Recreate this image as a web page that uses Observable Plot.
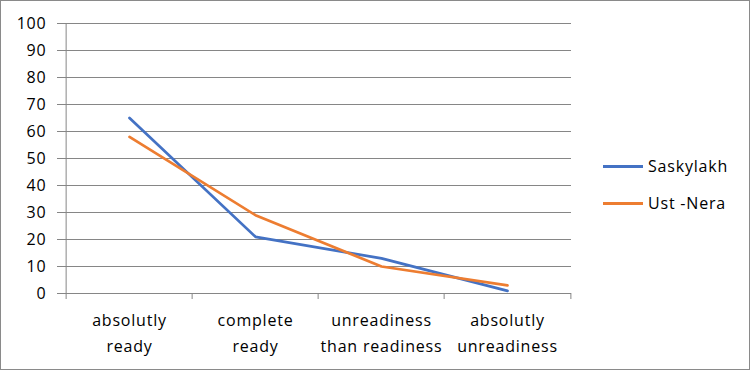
<!DOCTYPE html>
<html>
<head>
<meta charset="utf-8">
<script src="https://cdn.jsdelivr.net/npm/d3@7"></script>
<script src="https://cdn.jsdelivr.net/npm/@observablehq/plot@0.6"></script>
<style>
  html, body { margin: 0; padding: 0; background: #fff; }
  #wrap { position: relative; width: 751px; height: 371px; overflow: hidden; font-family: "Open Sans", sans-serif; }
  #border { position: absolute; left: 0; top: 0; width: 748px; height: 368px; border: 1px solid #8a8a8a; pointer-events: none; }
  #legend { position: absolute; left: 603px; top: 153px; font-size: 16px; letter-spacing: 0.8px; color: #000; }
  .item { display: flex; align-items: center; height: 26px; margin-bottom: 11px; }
  .sw { display: inline-block; width: 40px; height: 3px; margin-right: 5px; }
</style>
</head>
<body>
<div id="wrap"><div id="chart"></div><div id="legend"></div><div id="border"></div></div>
<script>
const categories = ["absolutly\nready", "complete\nready", "unreadiness\nthan readiness", "absolutly\nunreadiness"];
const seriesNames = ["Saskylakh", "Ust -Nera"];
const saskylakh = [65, 21, 13, 1];
const ustNera = [58, 29, 10, 3];
const yTicks = [0, 10, 20, 30, 40, 50, 60, 70, 80, 90, 100];
const colors = ["#4472C4", "#ED7D31"];

const data = [
  ...categories.map((c, i) => ({category: c, value: saskylakh[i], series: seriesNames[0]})),
  ...categories.map((c, i) => ({category: c, value: ustNera[i], series: seriesNames[1]}))
];

const W = 751, H = 371, ml = 64, mr = 180, mt = 23, mb = 78;
const step = (W - ml - mr) / categories.length;
const grid = "#868686";

const chart = Plot.plot({
  width: W, height: H,
  marginLeft: ml, marginRight: mr, marginTop: mt, marginBottom: mb,
  style: {fontFamily: "Open Sans, sans-serif", fontSize: "16px", color: "#000", background: "transparent", letterSpacing: "0.8px"},
  x: {type: "band", domain: categories, padding: 0, axis: null},
  y: {domain: [0, 100], axis: null},
  color: {domain: seriesNames, range: colors},
  marks: [
    Plot.gridY(yTicks, {stroke: grid, strokeOpacity: 1, strokeWidth: 1}),
    Plot.axisY(yTicks, {label: null, tickSize: 7, tickPadding: 11, stroke: grid, strokeOpacity: 1, fill: "#000", fontSize: 16}),
    Plot.ruleX([categories[0]], {x: d => d, dx: -step / 2, y1: 0, y2: 100, stroke: grid, strokeWidth: 1}),
    Plot.ruleX(categories, {x: d => d, dx: -step / 2, y1: 0, y2: 0, insetTop: 6, stroke: grid, strokeWidth: 1}),
    Plot.ruleX([categories[categories.length - 1]], {x: d => d, dx: step / 2, y1: 0, y2: 0, insetTop: 6, stroke: grid, strokeWidth: 1}),
    Plot.text(categories, {x: d => d, text: d => d, frameAnchor: "bottom", lineAnchor: "top", dy: 14, lineHeight: 1.625, fill: "#000", fontSize: 16}),
    Plot.line(data, {x: "category", y: "value", z: "series", stroke: "series", strokeWidth: 2.75, strokeLinecap: "round", strokeLinejoin: "round"})
  ]
});
document.getElementById("chart").appendChild(chart);

const legend = document.getElementById("legend");
seriesNames.forEach((s, i) => {
  const item = document.createElement("div");
  item.className = "item";
  const sw = document.createElement("span");
  sw.className = "sw";
  sw.style.background = colors[i];
  const t = document.createElement("span");
  t.textContent = s;
  item.appendChild(sw);
  item.appendChild(t);
  legend.appendChild(item);
});
</script>
</body>
</html>
